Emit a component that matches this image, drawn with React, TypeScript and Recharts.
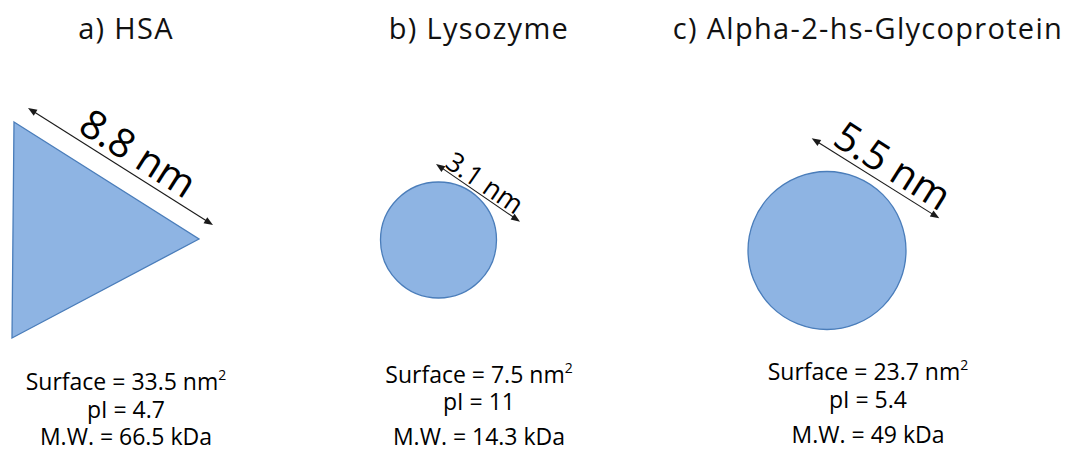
import { Scatter, ScatterChart, XAxis, YAxis } from "recharts";

// values
const panelLetters = ["a", "b", "c"];
const proteinNames = ["HSA", "Lysozyme", "Alpha-2-hs-Glycoprotein"];
const proteinShapes = ["triangle", "circle", "circle"];
const sizeNm = [8.8, 3.1, 5.5];
const surfaceNm2 = [33.5, 7.5, 23.7];
const isoelectricPoint = [4.7, 11, 5.4];
const molecularWeightKDa = [66.5, 14.3, 49];

// layout (pixels, in the chart's own 0..1074 / 0..452 domain)
const WIDTH = 1074;
const HEIGHT = 452;
const panelX = [126, 479, 868];
const shapeCenter = [
  [75, 233],
  [438.5, 240],
  [827, 250.5],
];
const triangleVertices = [
  [-61, -111],
  [124, 6],
  [-63, 105],
];
const circleRadius = [0, 58, 79];
const arrowEnds = [
  [[-47, -125], [138, -8]],
  [[-2.5, -76], [81.5, -18.3]],
  [[-15.3, -112.2], [112.3, -32.2]],
];
// label shift: [along the arrow, away from the shape]
const labelShift = [
  [8, 22],
  [0, 13],
  [8, 21],
];
const labelFont = [40, 27, 40];
const statBaselines = [
  [390, 418, 445],
  [383, 410, 445],
  [380, 408, 443],
];

const FILL = "#8EB4E3";
const STROKE = "#4A7DBA";
const FONT = "'Open Sans', 'DejaVu Sans', sans-serif";

const shapeData = proteinNames.map((name, i) => ({
  x: shapeCenter[i][0],
  y: shapeCenter[i][1],
  index: i,
  name,
}));

const captionData = proteinNames.map((name, i) => ({
  x: panelX[i],
  y: 39,
  index: i,
  name,
}));

function arrowHead(tx: number, ty: number, ux: number, uy: number) {
  const len = 9;
  const half = 3.5;
  const bx = tx - ux * len;
  const by = ty - uy * len;
  return `${tx},${ty} ${bx - uy * half},${by + ux * half} ${bx + uy * half},${by - ux * half}`;
}

function renderProtein(props: any) {
  const { cx, cy } = props;
  const i: number = (props.payload ?? props).index;
  const kind = proteinShapes[i];
  const [[sx, sy], [ex, ey]] = arrowEnds[i];
  const x1 = cx + sx;
  const y1 = cy + sy;
  const x2 = cx + ex;
  const y2 = cy + ey;
  const dx = x2 - x1;
  const dy = y2 - y1;
  const L = Math.hypot(dx, dy);
  const ux = dx / L;
  const uy = dy / L;
  // outward normal (up-right)
  const nx = uy;
  const ny = -ux;
  const angle = (Math.atan2(dy, dx) * 180) / Math.PI;
  const [along, away] = labelShift[i];
  const mx = (x1 + x2) / 2 + ux * along + nx * away;
  const my = (y1 + y2) / 2 + uy * along + ny * away;

  return (
    <g>
      {kind === "triangle" ? (
        <polygon
          points={triangleVertices.map(([vx, vy]) => `${cx + vx},${cy + vy}`).join(" ")}
          fill={FILL}
          stroke={STROKE}
          strokeWidth={1.3}
        />
      ) : (
        <circle cx={cx} cy={cy} r={circleRadius[i]} fill={FILL} stroke={STROKE} strokeWidth={1.3} />
      )}
      <line
        x1={x1 + ux * 6}
        y1={y1 + uy * 6}
        x2={x2 - ux * 6}
        y2={y2 - uy * 6}
        stroke="#1a1a1a"
        strokeWidth={1.1}
      />
      <polygon points={arrowHead(x1, y1, -ux, -uy)} fill="#1a1a1a" />
      <polygon points={arrowHead(x2, y2, ux, uy)} fill="#1a1a1a" />
      <text
        x={mx}
        y={my}
        textAnchor="middle"
        dominantBaseline="central"
        fontFamily={FONT}
        fontSize={labelFont[i]}
        fill="#000"
        transform={`rotate(${angle} ${mx} ${my})`}
      >
        {`${sizeNm[i]} nm`}
      </text>
    </g>
  );
}

function renderCaption(props: any) {
  const { cx, cy } = props;
  const i: number = (props.payload ?? props).index;
  const [b1, b2, b3] = statBaselines[i];
  return (
    <g fontFamily={FONT} fill="#000">
      <text x={cx} y={cy} textAnchor="middle" fontSize={29} letterSpacing={1.3} fill="#111">
        {`${panelLetters[i]}) ${proteinNames[i]}`}
      </text>
      <text x={cx} y={b1} textAnchor="middle" fontSize={23}>
        <tspan>{`Surface = ${surfaceNm2[i]} nm`}</tspan>
        <tspan dy={-10} fontSize={14}>
          2
        </tspan>
      </text>
      <text x={cx} y={b2} textAnchor="middle" fontSize={23}>
        {`pI = ${isoelectricPoint[i]}`}
      </text>
      <text x={cx} y={b3} textAnchor="middle" fontSize={23}>
        {`M.W. = ${molecularWeightKDa[i]} kDa`}
      </text>
    </g>
  );
}

export default function App() {
  return (
    <div style={{ width: WIDTH, height: HEIGHT, background: "#fff" }}>
      <style>{"body{margin:0;background:#fff}"}</style>
      <ScatterChart width={WIDTH} height={HEIGHT} margin={{ top: 0, right: 0, bottom: 0, left: 0 }}>
        <XAxis type="number" dataKey="x" domain={[0, WIDTH]} hide />
        <YAxis type="number" dataKey="y" domain={[0, HEIGHT]} reversed hide />
        <Scatter data={shapeData} shape={renderProtein} isAnimationActive={false} />
        <Scatter data={captionData} shape={renderCaption} isAnimationActive={false} />
      </ScatterChart>
    </div>
  );
}
